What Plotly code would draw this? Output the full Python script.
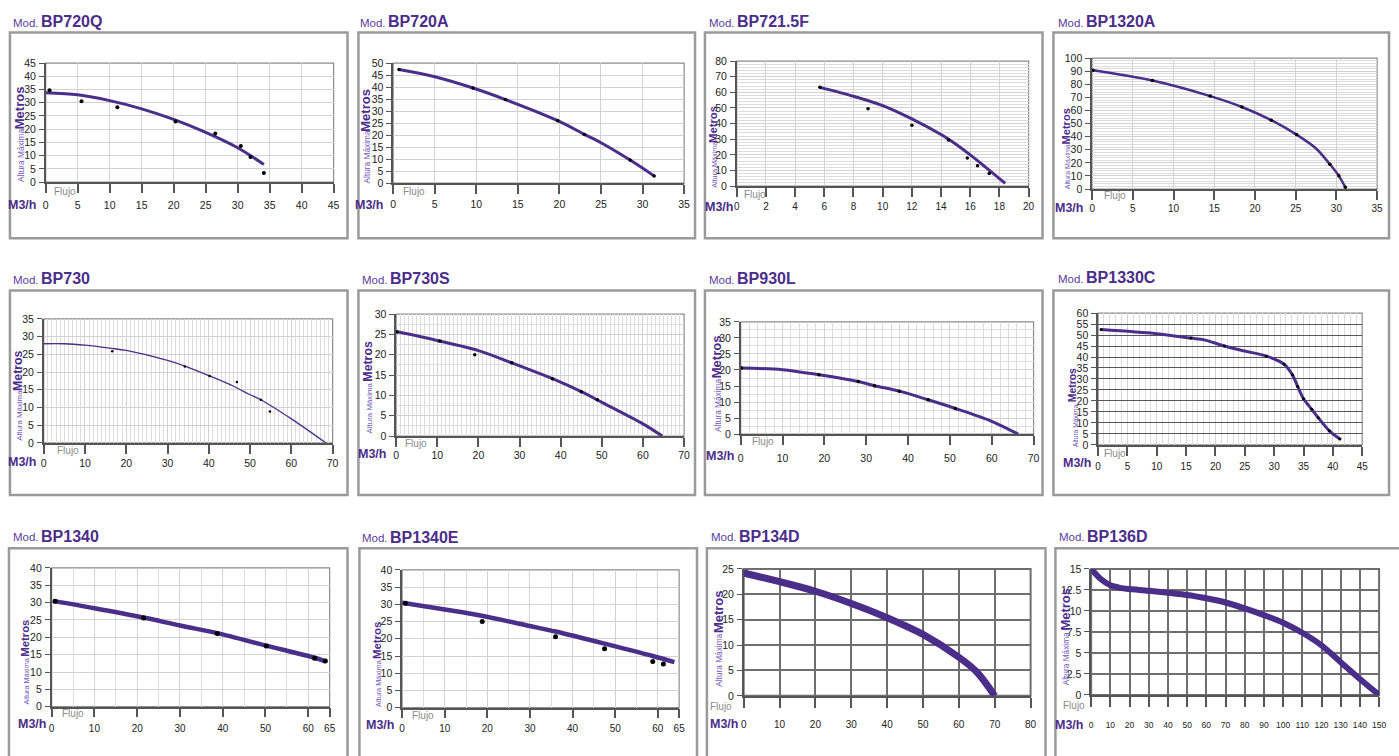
import plotly.graph_objects as go

# ---------------- data ----------------
models = ["BP720Q", "BP720A", "BP721.5F", "BP1320A",
          "BP730", "BP730S", "BP930L", "BP1330C",
          "BP1340", "BP1340E", "BP134D", "BP136D"]

bp720q_flow = [0, 5, 10, 15, 20, 25, 30, 34.1]
bp720q_head = [33.8, 33, 30.8, 27.7, 23.7, 18.8, 13, 6.7]
bp720q_pt_flow = [0.6, 5.6, 11.2, 20.3, 26.5, 30.5, 32, 34.1]
bp720q_pt_head = [34.7, 30.6, 28.3, 22.9, 18.4, 13.7, 9.5, 3.5]
bp720q_xticks = [0, 5, 10, 15, 20, 25, 30, 35, 40, 45]
bp720q_yticks = [0, 5, 10, 15, 20, 25, 30, 35, 40, 45]

bp720a_flow = [0.7, 5, 9.6, 13.5, 19.8, 23, 25, 28.5, 31.4]
bp720a_head = [47.3, 44.3, 39.6, 34.8, 26, 20.3, 16.8, 9.6, 3]
bp720a_pt_flow = [0.7, 9.6, 13.5, 19.8, 23, 28.5, 31.4]
bp720a_pt_head = [47.3, 39.6, 34.8, 26, 20.3, 9.6, 3]
bp720a_xticks = [0, 5, 10, 15, 20, 25, 30, 35]
bp720a_yticks = [0, 5, 10, 15, 20, 25, 30, 35, 40, 45, 50]

bp7215f_flow = [5.7, 8, 10, 12, 14, 15, 16, 17, 18.4]
bp7215f_head = [63.2, 57.5, 51.5, 43, 33, 27, 20, 12.5, 1.7]
bp7215f_pt_flow = [5.7, 9, 12, 14.5, 15.8, 16.5, 17.3]
bp7215f_pt_head = [63.2, 49.5, 39, 29.5, 18, 13, 8]
bp7215f_xticks = [0, 2, 4, 6, 8, 10, 12, 14, 16, 18, 20]
bp7215f_yticks = [0, 10, 20, 30, 40, 50, 60, 70, 80]

bp1320a_flow = [0.1, 7.4, 14.5, 18.4, 22, 25.1, 27.5, 29.2, 30.3, 31.1]
bp1320a_head = [90.7, 82.9, 71, 62.7, 52.6, 41.6, 31, 18.9, 10.1, 1.3]
bp1320a_pt_flow = [0.1, 7.4, 14.5, 18.4, 22, 25.1, 29.2, 30.3, 31.1]
bp1320a_pt_head = [90.7, 82.9, 71, 62.7, 52.6, 41.6, 18.9, 10.1, 1.3]
bp1320a_xticks = [0, 5, 10, 15, 20, 25, 30, 35]
bp1320a_yticks = [0, 10, 20, 30, 40, 50, 60, 70, 80, 90, 100]

bp730_flow = [0, 5, 10, 16.5, 20, 30, 34.2, 40, 46, 50, 52.6, 60, 68.4]
bp730_head = [28, 28, 27.6, 26.7, 26.1, 23.3, 21.7, 19, 16, 13.6, 12.2, 6.8, 0]
bp730_pt_flow = [16.6, 34.2, 40.2, 46.8, 52.6, 54.8]
bp730_pt_head = [25.9, 21.6, 18.9, 17.2, 12.2, 8.9]
bp730_xticks = [0, 10, 20, 30, 40, 50, 60, 70]
bp730_yticks = [0, 5, 10, 15, 20, 25, 30, 35]

bp730s_flow = [0, 10, 20, 28.1, 38, 45, 50, 60, 64.7]
bp730s_head = [25.7, 23.5, 21, 18, 14.1, 10.9, 8.3, 3, 0]
bp730s_pt_flow = [0.2, 10.6, 19.1, 28.1, 38, 45, 48.9]
bp730s_pt_head = [25.6, 23.4, 20, 18, 14.1, 10.9, 8.9]
bp730s_xticks = [0, 10, 20, 30, 40, 50, 60, 70]
bp730s_yticks = [0, 5, 10, 15, 20, 25, 30]

bp930l_flow = [0, 10, 18.7, 28.1, 32, 37.9, 44.8, 51.3, 60, 66.3]
bp930l_head = [20.6, 20.1, 18.5, 16.4, 15.1, 13.4, 10.7, 8, 4, 0]
bp930l_pt_flow = [0.2, 18.7, 28.1, 32, 37.9, 44.8, 51.3]
bp930l_pt_head = [20.6, 18.5, 16.4, 15.1, 13.4, 10.7, 8]
bp930l_xticks = [0, 10, 20, 30, 40, 50, 60, 70]
bp930l_yticks = [0, 5, 10, 15, 20, 25, 30, 35]

bp1330c_flow = [0.5, 10, 15.8, 18.1, 21.5, 25, 28.7, 31.7, 33.1, 34, 35, 36.4, 37.5, 39.4, 41.2]
bp1330c_head = [52.5, 50.6, 48.6, 47.8, 45, 42.7, 40.4, 36.7, 31.9, 26.6, 21, 16.2, 12.4, 6.4, 2.7]
bp1330c_pt_flow = [0.5, 15.8, 21.5, 28.7, 31.7, 33.1, 34, 35, 36.4, 37.5, 39.4, 41.2]
bp1330c_pt_head = [52.5, 48.6, 45, 40.4, 36.7, 31.9, 26.6, 21, 16.2, 12.4, 6.4, 2.7]
bp1330c_xticks = [0, 5, 10, 15, 20, 25, 30, 35, 40, 45]
bp1330c_yticks = [0, 5, 10, 15, 20, 25, 30, 35, 40, 45, 50, 55, 60]

bp1340_flow = [0.3, 10, 21.5, 30, 38.7, 50.2, 61.5, 64]
bp1340_head = [30.5, 28.4, 25.7, 23.4, 21.2, 17.6, 14.1, 13.1]
bp1340_pt_flow = [0.8, 21.5, 38.7, 50.2, 61.5, 64]
bp1340_pt_head = [30.4, 25.6, 21.1, 17.5, 14, 13.2]
bp1340_xticks = [0, 10, 20, 30, 40, 50, 60, 65]
bp1340_yticks = [0, 5, 10, 15, 20, 25, 30, 35, 40]

bp1340e_flow = [0, 10, 19, 30, 36, 47.5, 58.8, 63.9]
bp1340e_head = [30.5, 28.5, 26.6, 23.7, 22.1, 18.6, 15, 13.2]
bp1340e_pt_flow = [0.8, 18.8, 36, 47.5, 58.8, 61.3]
bp1340e_pt_head = [30.3, 25, 20.6, 17.1, 13.4, 12.7]
bp1340e_xticks = [0, 10, 20, 30, 40, 50, 60, 65]
bp1340e_yticks = [0, 5, 10, 15, 20, 25, 30, 35, 40]

bp134d_flow = [0, 10, 20, 30, 40, 50, 60, 65, 70]
bp134d_head = [24.2, 22.5, 20.6, 18.2, 15.4, 12.1, 7.6, 4.7, 0]
bp134d_xticks = [0, 10, 20, 30, 40, 50, 60, 70, 80]
bp134d_yticks = [0, 5, 10, 15, 20, 25]

bp136d_flow = [0, 5, 10, 15, 20, 30, 40, 50, 60, 70, 80, 90, 100, 110, 120, 130, 140, 150]
bp136d_head = [15, 13.8, 13.05, 12.75, 12.6, 12.4, 12.15, 11.9, 11.5, 11.0, 10.3, 9.5, 8.6, 7.4, 5.9, 3.9, 1.9, 0]
bp136d_xticks = [0, 10, 20, 30, 40, 50, 60, 70, 80, 90, 100, 110, 120, 130, 140, 150]
bp136d_yticks = [0, 2.5, 5, 7.5, 10, 12.5, 15]

series = [
    (bp720q_flow, bp720q_head, bp720q_pt_flow, bp720q_pt_head, bp720q_xticks, bp720q_yticks),
    (bp720a_flow, bp720a_head, bp720a_pt_flow, bp720a_pt_head, bp720a_xticks, bp720a_yticks),
    (bp7215f_flow, bp7215f_head, bp7215f_pt_flow, bp7215f_pt_head, bp7215f_xticks, bp7215f_yticks),
    (bp1320a_flow, bp1320a_head, bp1320a_pt_flow, bp1320a_pt_head, bp1320a_xticks, bp1320a_yticks),
    (bp730_flow, bp730_head, bp730_pt_flow, bp730_pt_head, bp730_xticks, bp730_yticks),
    (bp730s_flow, bp730s_head, bp730s_pt_flow, bp730s_pt_head, bp730s_xticks, bp730s_yticks),
    (bp930l_flow, bp930l_head, bp930l_pt_flow, bp930l_pt_head, bp930l_xticks, bp930l_yticks),
    (bp1330c_flow, bp1330c_head, bp1330c_pt_flow, bp1330c_pt_head, bp1330c_xticks, bp1330c_yticks),
    (bp1340_flow, bp1340_head, bp1340_pt_flow, bp1340_pt_head, bp1340_xticks, bp1340_yticks),
    (bp1340e_flow, bp1340e_head, bp1340e_pt_flow, bp1340e_pt_head, bp1340e_xticks, bp1340e_yticks),
    (bp134d_flow, bp134d_head, None, None, bp134d_xticks, bp134d_yticks),
    (bp136d_flow, bp136d_head, None, None, bp136d_xticks, bp136d_yticks),
]

# ---------------- layout / style (pixel geometry) ----------------
W, H = 1399, 756
PURPLE = "#4b2d8a"
PURPLE_LIGHT = "#7157b8"
TITLEF = "Liberation Sans, Arial, sans-serif"
TICKF = "Liberation Sans, Arial, sans-serif"

# frame(x0,y0,x1,y1), axis(x0,ytop,x1,ybottom), title(x,y), lab(x, metros_c, altura_c, scale),
# m3h(xright,y), flujo(xleft,y), so = x tick label standoff, style
panels = [
    dict(frame=(7, 27, 347, 236), ax=(43, 58, 333, 179), title=(8, 17), lab=(16, 103, 152, 1.0),
         m3h=(35, 202), flujo=(49, 188), so=3, lw=3, mk=4, xminor=None, yminor=None, grid="light", tf=10.5),
    dict(frame=(358, 27, 697, 236), ax=(393, 58, 686, 180), title=(358, 17), lab=(365, 106, 153, 1.0),
         m3h=(385, 202), flujo=(401, 188), so=2, lw=3, mk=3.5, xminor=None, yminor=None, grid="light", tf=10.5),
    dict(frame=(707, 27, 1047, 236), ax=(739, 56, 1033, 183), title=(709, 17), lab=(715, 120, 161, 0.87),
         m3h=(737, 204), flujo=(744, 192), so=1, lw=3, mk=3.5, xminor=None, yminor=2, grid="light", tf=10),
    dict(frame=(1058, 27, 1396, 236), ax=(1097, 53, 1384, 186), title=(1061, 17), lab=(1071, 122, 163, 0.85),
         m3h=(1090, 205), flujo=(1107, 193), so=0, lw=2.5, mk=3.5, xminor=None, yminor=2, grid="light", tf=10),
    dict(frame=(7, 289, 347, 497), ax=(41, 318, 332, 444), title=(8, 278), lab=(15, 370, 416, 0.95),
         m3h=(35, 463), flujo=(52, 452), so=1, lw=1.3, mk=2.5, xminor=1, yminor=None, grid="light", tf=10.5),
    dict(frame=(358, 289, 697, 497), ax=(396, 313, 686, 437), title=(360, 278), lab=(368, 361, 408, 0.95),
         m3h=(388, 455), flujo=(403, 445), so=0, lw=3, mk=3.5, xminor=1, yminor=2.5, grid="light", tf=10.5),
    dict(frame=(707, 289, 1047, 497), ax=(743, 321, 1038, 435), title=(709, 278), lab=(718, 356, 406, 1.0),
         m3h=(738, 457), flujo=(752, 443), so=5, lw=3, mk=3.5, xminor=2, yminor=2.5, grid="light", tf=10.5),
    dict(frame=(1058, 289, 1396, 497), ax=(1103, 312, 1369, 446), title=(1061, 277), lab=(1078, 385, 426, 0.8),
         m3h=(1098, 464), flujo=(1107, 455), so=2, lw=3, mk=3, xminor=1, yminor=None, grid="dark_h", tf=10),
    dict(frame=(6, 551, 347, 790), ax=(49, 571, 329, 712), title=(8, 540), lab=(22, 642, 686, 0.87),
         m3h=(45, 730), flujo=(57, 719), so=3, lw=4.5, mk=5, xminor=5, yminor=None, grid="light", tf=10),
    dict(frame=(359, 551, 699, 790), ax=(402, 573, 681, 713), title=(360, 541), lab=(376, 644, 688, 0.88),
         m3h=(396, 731), flujo=(410, 721), so=2, lw=4.5, mk=5, xminor=5, yminor=None, grid="light", tf=10),
    dict(frame=(709, 551, 1050, 790), ax=(746, 572, 1035, 701), title=(711, 540), lab=(720, 615, 665, 1.0),
         m3h=(742, 730), flujo=(710, 712), so=8, lw=7, mk=0, xminor=None, yminor=None, grid="dark", tf=10),
    dict(frame=(1060, 551, 1420, 790), ax=(1096, 572, 1386, 700), title=(1062, 540), lab=(1070, 613, 663, 1.0),
         m3h=(1090, 731), flujo=(1066, 711), so=11, lw=6, mk=0, xminor=None, yminor=None, grid="dark", tf=8.5),
]


def px(x):
    return x / W


def py(y):
    return 1 - y / H


fig = go.Figure()
layout = dict(width=W, height=H, margin=dict(l=0, r=0, t=0, b=0),
              paper_bgcolor="white", plot_bgcolor="white", showlegend=False)
shapes, annotations = [], []

for i, (p, s, name) in enumerate(zip(panels, series, models), start=1):
    flow, head, pflow, phead, xt, yt = s
    ax0, ayt, ax1, ayb = p["ax"]
    sfx = "" if i == 1 else str(i)
    xa, ya = "x" + sfx, "y" + sfx
    dark = p["grid"] == "dark"
    gcol = "#d2d2d2"
    xgrid_col = "#6e6e6e" if dark else gcol
    ygrid_col = "#6e6e6e" if dark else ("#555555" if p["grid"] == "dark_h" else gcol)
    gw = 2 if dark else 1

    xaxis = dict(domain=[px(ax0), px(ax1)], range=[xt[0], xt[-1]], anchor=ya,
                 tickmode="array", tickvals=xt, showgrid=True, gridcolor=xgrid_col, gridwidth=gw,
                 zeroline=False, showline=True, linecolor="#555555", linewidth=1.5,
                 ticks="outside", ticklen=9 if not dark else 10, tickwidth=2, tickcolor="#555555",
                 tickfont=dict(family=TICKF, size=p["tf"], color="#222"), tickangle=0,
                 ticklabelstandoff=p["so"], fixedrange=True)
    if p["xminor"]:
        xaxis["minor"] = dict(tickmode="linear", tick0=0, dtick=p["xminor"], showgrid=True,
                              gridcolor="#dcdcdc", gridwidth=1, ticks="")
    yaxis = dict(domain=[py(ayb), py(ayt)], range=[yt[0], yt[-1]], anchor=xa,
                 tickmode="array", tickvals=yt, showgrid=True, gridcolor=ygrid_col, gridwidth=gw,
                 zeroline=False, showline=True, linecolor="#555555", linewidth=1.5,
                 ticks="outside", ticklen=5, tickwidth=1, tickcolor="#555555",
                 tickfont=dict(family=TICKF, size=10.5, color="#222"),
                 ticklabelstandoff=1, fixedrange=True)
    if p["yminor"]:
        yaxis["minor"] = dict(tickmode="linear", tick0=0, dtick=p["yminor"], showgrid=True,
                              gridcolor="#dcdcdc", gridwidth=1, ticks="")
    layout["xaxis" + sfx] = xaxis
    layout["yaxis" + sfx] = yaxis

    fig.add_trace(go.Scatter(x=flow, y=head, mode="lines", xaxis=xa, yaxis=ya,
                             line=dict(color=PURPLE, width=p["lw"], shape="spline", smoothing=0.9),
                             cliponaxis=False, hoverinfo="skip"))
    if pflow:
        fig.add_trace(go.Scatter(x=pflow, y=phead, mode="markers", xaxis=xa, yaxis=ya,
                                 marker=dict(color="black", size=p["mk"], symbol="circle"),
                                 cliponaxis=False, hoverinfo="skip"))

    # plot area box
    shapes.append(dict(type="rect", xref=f"{xa} domain", yref=f"{ya} domain", x0=0, x1=1, y0=0, y1=1,
                       line=dict(color="#6e6e6e" if dark else "#8c8c8c", width=2 if dark else 1.2),
                       layer="below"))
    # panel frame
    fx0, fy0, fx1, fy1 = p["frame"]
    shapes.append(dict(type="rect", xref="paper", yref="paper", x0=px(fx0), x1=px(fx1),
                       y0=py(fy1), y1=py(fy0), line=dict(color="#9a9a9a", width=2.5), layer="below"))

    # titles
    tx, ty = p["title"]
    annotations.append(dict(text="Mod.", x=px(tx), y=py(ty), xref="paper", yref="paper",
                            xanchor="left", yanchor="middle", showarrow=False,
                            font=dict(family=TITLEF, size=11.5, color="#5a3d9c")))
    annotations.append(dict(text=f"<b>{name}</b>", x=px(tx + 28), y=py(ty - 1), xref="paper", yref="paper",
                            xanchor="left", yanchor="middle", showarrow=False,
                            font=dict(family=TITLEF, size=16, color=PURPLE)))
    # vertical labels
    lx, mc, ac, sc = p["lab"]
    annotations.append(dict(text="<b>Metros</b>", x=px(lx), y=py(mc), xref="paper", yref="paper",
                            xanchor="center", yanchor="middle", textangle=-90, showarrow=False,
                            font=dict(family=TITLEF, size=13 * sc, color=PURPLE)))
    annotations.append(dict(text="Altura Máxima", x=px(lx + 1.5), y=py(ac), xref="paper", yref="paper",
                            xanchor="center", yanchor="middle", textangle=-90, showarrow=False,
                            font=dict(family=TICKF, size=8.3 * sc, color=PURPLE_LIGHT)))
    # M3/h and Flujo
    mx, my = p["m3h"]
    annotations.append(dict(text="<b>M3/h</b>", x=px(mx), y=py(my), xref="paper", yref="paper",
                            xanchor="right", yanchor="middle", showarrow=False,
                            font=dict(family=TITLEF, size=12.5, color=PURPLE)))
    fx, fy = p["flujo"]
    annotations.append(dict(text="Flujo", x=px(fx), y=py(fy), xref="paper", yref="paper",
                            xanchor="left", yanchor="middle", showarrow=False,
                            font=dict(family=TICKF, size=10, color="#8a8a8a")))

layout["shapes"] = shapes
layout["annotations"] = annotations
fig.update_layout(**layout)
fig.write_html(
    "out.html",
    config={"displayModeBar": False},
    post_script=("document.body.style.margin='0px';"
                 "document.body.style.overflow='hidden';"
                 "document.documentElement.style.overflow='hidden';"),
)
